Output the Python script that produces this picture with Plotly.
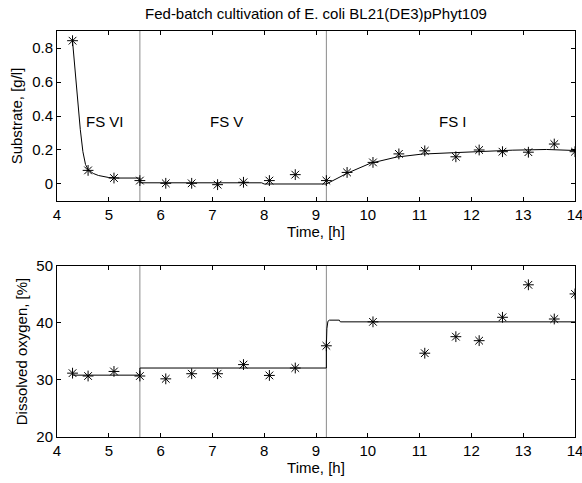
import plotly.graph_objects as go

# ---------------- data ----------------
sample_time = [4.3, 4.6, 5.1, 5.6, 6.1, 6.6, 7.1, 7.6, 8.1, 8.6, 9.2, 9.6, 10.1,
               10.6, 11.1, 11.7, 12.15, 12.6, 13.1, 13.6, 14.0]
substrate_meas = [0.843, 0.08, 0.035, 0.02, 0.004, 0.004, -0.004, 0.01, 0.02, 0.055,
                  0.02, 0.068, 0.127, 0.177, 0.195, 0.16, 0.2, 0.19, 0.187, 0.235, 0.19]

substrate_model_t = [4.3, 4.35, 4.4, 4.45, 4.5, 4.55, 4.6, 4.7, 4.8, 4.9, 5.0, 5.2, 5.6,
                     5.6, 7.95, 8.0, 9.2, 9.6, 10.05, 10.55, 11.05, 11.65, 12.15, 12.8,
                     13.45, 14.0]
substrate_model_v = [0.84, 0.66, 0.48, 0.32, 0.19, 0.115, 0.085, 0.062, 0.05, 0.042,
                     0.038, 0.035, 0.035, 0.007, 0.007, 0.0, 0.0, 0.063, 0.122, 0.158,
                     0.176, 0.184, 0.192, 0.199, 0.203, 0.197]

do_time = [4.3, 4.6, 5.1, 5.6, 6.1, 6.6, 7.1, 7.6, 8.1, 8.6, 9.2, 10.1,
           11.1, 11.7, 12.15, 12.6, 13.1, 13.6, 14.0]
do_meas = [31.2, 30.7, 31.5, 30.7, 30.2, 31.1, 31.1, 32.7, 30.8, 32.1, 36.0, 40.2,
           34.7, 37.6, 36.9, 41.0, 46.7, 40.7, 45.1]

do_model_t = [4.3, 5.6, 5.6, 9.2, 9.2, 9.21, 9.23, 9.26, 9.45, 9.47, 14.0]
do_model_v = [30.85, 30.85, 32.1, 32.1, 36.0, 39.0, 40.3, 40.5, 40.5, 40.2, 40.2]

phase_boundaries = [5.6, 9.2]
phase_labels = ["FS VI", "FS V", "FS I"]
phase_label_x = [4.93, 7.28, 11.64]
phase_label_y = 0.365

x_ticks = [4, 5, 6, 7, 8, 9, 10, 11, 12, 13, 14]
substrate_ticks = [0, 0.2, 0.4, 0.6, 0.8]
do_ticks = [20, 30, 40, 50]

FONT = "Liberation Sans, Arial, sans-serif"
FS = 15

fig = go.Figure()

marker = dict(symbol="asterisk-open", size=9, color="black",
              line=dict(color="black", width=1))

fig.add_trace(go.Scatter(x=substrate_model_t, y=substrate_model_v, mode="lines",
                         line=dict(color="black", width=1), xaxis="x", yaxis="y",
                         showlegend=False, hoverinfo="skip"))
fig.add_trace(go.Scatter(x=sample_time, y=substrate_meas, mode="markers",
                         marker=marker, xaxis="x", yaxis="y", showlegend=False))
fig.add_trace(go.Scatter(x=do_model_t, y=do_model_v, mode="lines",
                         line=dict(color="black", width=1), xaxis="x2", yaxis="y2",
                         showlegend=False, hoverinfo="skip"))
fig.add_trace(go.Scatter(x=do_time, y=do_meas, mode="markers",
                         marker=marker, xaxis="x2", yaxis="y2", showlegend=False))

shapes = []
for xb in phase_boundaries:
    for xr, yr in (("x", "y domain"), ("x2", "y2 domain")):
        shapes.append(dict(type="line", xref=xr, yref=yr, x0=xb, x1=xb, y0=0, y1=1,
                           line=dict(color="#8a8a8a", width=1), layer="below"))

annotations = []
for lbl, lx in zip(phase_labels, phase_label_x):
    annotations.append(dict(x=lx, y=phase_label_y, xref="x", yref="y", text=lbl,
                            showarrow=False, font=dict(family=FONT, size=FS, color="black")))

axis_common = dict(showline=True, linecolor="black", linewidth=1, mirror="ticks",
                   ticks="inside", ticklen=4, tickcolor="black", showgrid=False,
                   zeroline=False, ticklabeloverflow="allow", automargin=False,
                   tickfont=dict(family=FONT, size=FS, color="black"),
                   title_font=dict(family=FONT, size=FS, color="black"))

fig.update_layout(
    width=582, height=483,
    margin=dict(l=57, r=7, t=31, b=46),
    paper_bgcolor="white", plot_bgcolor="white",
    title=dict(text="Fed-batch cultivation of E. coli BL21(DE3)pPhyt109",
               x=0.5429, xanchor="center", y=0.971, yanchor="middle",
               font=dict(family=FONT, size=FS, color="black")),
    xaxis=dict(domain=[0, 1], range=[4, 14], tickvals=x_ticks, anchor="y",
               title=dict(text="Time, [h]", standoff=3), **axis_common),
    yaxis=dict(domain=[0.5813, 1], range=[-0.1, 0.9], tickvals=substrate_ticks,
               anchor="x", title=dict(text="Substrate, [g/l]", standoff=5), **axis_common),
    xaxis2=dict(domain=[0, 1], range=[4, 14], tickvals=x_ticks, anchor="y2",
                title=dict(text="Time, [h]", standoff=3), **axis_common),
    yaxis2=dict(domain=[0, 0.4212], range=[20, 50], tickvals=do_ticks, anchor="x2",
                title=dict(text="Dissolved oxygen, [%]", standoff=5), **axis_common),
    shapes=shapes,
    annotations=annotations,
)

fig.write_html("out.html")
